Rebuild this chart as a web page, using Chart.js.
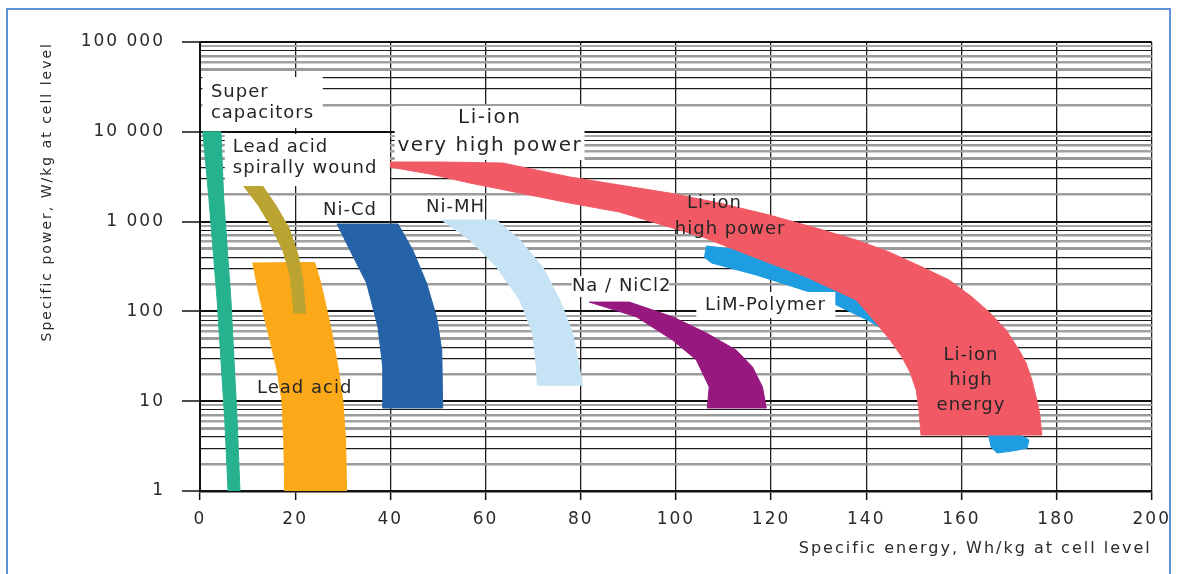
<!DOCTYPE html>
<html>
<head>
<meta charset="utf-8">
<title>Specific power vs specific energy of cell technologies</title>
<script src="https://cdn.jsdelivr.net/npm/chart.js@4.4.1/dist/chart.umd.min.js"></script>
<style>
  html, body { margin: 0; padding: 0; background: #ffffff; }
  canvas { display: block; }
</style>
</head>
<body>
<canvas id="ragone" width="1177" height="574"></canvas>
<script>
// Outlines of each technology region: [specific energy (Wh/kg), specific power (W/kg)] vertices
const superCapacitors = [[0.6,10000],[1.9,1740],[3.6,134],[5.2,6.2],[5.9,1],[8.4,1],[7.8,6.2],[6.5,134],[5.0,1740],[4.4,10000]];
const leadAcidSpiral  = [[9.0,2560],[12.2,1530],[15.1,850],[17.4,480],[18.9,254],[19.5,134],[19.7,96],[22.2,96],[21.6,224],[20.6,425],[18.7,850],[15.9,1530],[13.0,2560]];
const leadAcid        = [[11.1,346],[12.2,173],[13.4,91],[14.7,48],[16.2,22],[17.2,10.3],[17.6,3.7],[17.8,1],[30.8,1],[30.6,3.7],[30.0,10.3],[29.0,24],[27.7,57.5],[26.2,134],[25.2,224],[24.1,350]];
const niCd            = [[28.8,940],[41.6,940],[44.7,483],[47.6,207],[49.7,87],[50.8,37],[51.0,8.4],[38.4,8.4],[38.4,24],[37.4,67],[35.0,207],[31.5,483]];
const niMH            = [[50.8,1040],[62.3,1040],[67.2,624],[72.0,312],[75.6,134],[78.3,57.5],[79.7,24],[80.4,15.1],[70.9,15.1],[70.7,24],[69.9,57.5],[67.2,134],[62.3,312],[56.7,624]];
const naNiCl2         = [[81.8,127],[90.2,127],[99.3,87],[106.4,57.5],[112.7,37],[116.1,24],[118.2,14.4],[119.0,8.4],[106.6,8.4],[107.0,14.4],[104.3,28.8],[99.3,48],[91.7,87]];
const liIon           = [[38.4,4610],[50.4,4610],[63.6,4490],[77.7,3140],[88.1,2556],[98.6,2082],[109.1,1611],[119.6,1184],[130.1,828],[137.9,624],[144.8,459],[151.7,312],[157.4,224],[162.2,145],[165.8,98.5],[169.4,62],[172.1,37.2],[173.6,26.6],[174.8,17.2],[175.7,11.1],[176.5,7.0],[176.9,4.2],[151.5,4.2],[151.1,8.0],[150.5,13.3],[149.2,21.1],[147.5,31.1],[145.0,48],[142.1,74.3],[137.9,134],[127.4,242],[116.9,393],[105.6,674],[98.6,871],[88.1,1279],[77.7,1611],[67.2,2082],[56.7,2690],[48.3,3388],[39.9,4055]];
const limPolymer      = [[106.4,535],[116.9,459],[127.4,320],[137.9,197],[146.9,104],[155.3,42.3],[162.6,15.1],[167.9,6.2],[173.1,4.0],[174.2,3.7],[173.8,3.0],[171.0,2.8],[167.5,2.65],[166.2,3.1],[165.8,4.0],[162.6,8.0],[157.4,17.2],[151.1,37.2],[144.8,57.5],[140.6,78.2],[133.7,118],[127.4,169],[116.9,254],[107.5,346],[106.0,400]];

// Axis tick labels
const energyTicks = [0, 20, 40, 60, 80, 100, 120, 140, 160, 180, 200];
const powerTickLabels = ['1', '10', '100', '1 000', '10 000', '100 000'];

// Region captions (text and anchor in data units)
const captions = [
  { lines: ['Super', 'capacitors'], energy: 2.3, power: 27740, align: 'left' },
  { lines: ['Lead acid', 'spirally wound'], energy: 6.9, power: 6770, align: 'left' },
  { lines: ['Li-ion', 'very high power'], energy: 60.9, power: 14250, big: true },
  { lines: ['Ni-Cd'], energy: 31.5, power: 1346 },
  { lines: ['Ni-MH'], energy: 53.7, power: 1455 },
  { lines: ['Na / NiCl2'], energy: 88.6, power: 192 },
  { lines: ['LiM-Polymer'], energy: 118.8, power: 118 },
  { lines: ['Lead acid'], energy: 22.0, power: 14.0 },
  { lines: ['Li-ion'], energy: 108.1, power: 1611 },
  { lines: ['high power'], energy: 111.4, power: 828 },
  { lines: ['Li-ion', 'high', 'energy'], energy: 162.0, power: 32.7, gap: 25 }
];

// White panels behind some captions: [energy from, energy to], [power from, power to]
const captionPanels = [
  { energy: [0.5, 25.8],  power: [11020, 40740] },
  { energy: [5.2, 39.9],  power: [2490, 9452] },
  { energy: [40.9, 80.8], power: [4853, 19370] },
  { energy: [25.6, 37.8], power: [1069, 1832] },
  { energy: [47.8, 59.4], power: [1097, 1928] },
  { energy: [78.1, 98.6], power: [145, 248] },
  { energy: [104.3, 133.5], power: [84.5, 164.5] }
];

// Series, listed from front-most to back-most
const technologies = [
  { name: 'Lead acid spirally wound', outline: leadAcidSpiral, color: '#BBA331' },
  { name: 'Lead acid',                outline: leadAcid,       color: '#FBA819' },
  { name: 'Super capacitors',         outline: superCapacitors, color: '#27B28F' },
  { name: 'Ni-Cd',                    outline: niCd,           color: '#2562A7' },
  { name: 'Ni-MH',                    outline: niMH,           color: '#C5E3F5' },
  { name: 'Na / NiCl2',               outline: naNiCl2,        color: '#97197F' },
  { name: 'Li-ion',                   outline: liIon,          color: '#F15A64' },
  { name: 'LiM-Polymer',              outline: limPolymer,     color: '#1E9EE0' }
];

const FONT = '"DejaVu Sans", sans-serif';
const TEXT = '#262626';

const isDecade = v => Math.abs(Math.log10(v) - Math.round(Math.log10(v))) < 1e-9;

// Horizontal rules: every 1..9 x 10^k between 1 and 100 000
const powerGrid = [];
for (let k = 0; k < 5; k++) for (let m = 1; m <= 9; m++) powerGrid.push(m * Math.pow(10, k));
powerGrid.push(100000);

// Rule style by mantissa: mixed grey bands and thin black rules
const ruleStyle = { 2: ['#9c9c9c', 2.5], 3: ['#1c1c1c', 1.2], 4: ['#1c1c1c', 1.2], 5: ['#9a9a9a', 3], 6: ['#a2a2a2', 2.5], 7: ['#9a9a9a', 2.5], 8: ['#1c1c1c', 1], 9: ['#a4a4a4', 2] };
function powerRule(v) {
  if (isDecade(v)) return ['#111111', 2];
  const m = Math.round(v / Math.pow(10, Math.floor(Math.log10(v) + 1e-9)));
  return ruleStyle[m] || ['#1c1c1c', 1];
}

const pagePlugin = {
  id: 'page',
  beforeDraw(chart) {
    const { ctx, width, height } = chart;
    ctx.save();
    ctx.fillStyle = '#ffffff';
    ctx.fillRect(0, 0, width, height);
    ctx.strokeStyle = '#5F93D6';
    ctx.lineWidth = 2;
    ctx.strokeRect(7, 9, 1163, height + 20);
    ctx.restore();
    ctx.letterSpacing = '2px';
  },
  afterDraw(chart) {
    chart.ctx.letterSpacing = '0px';
  }
};

const captionPlugin = {
  id: 'captions',
  afterDatasetsDraw(chart) {
    const { ctx, scales: { x, y } } = chart;
    ctx.save();
    ctx.fillStyle = '#ffffff';
    for (const p of captionPanels) {
      const x0 = x.getPixelForValue(p.energy[0]);
      const x1 = x.getPixelForValue(p.energy[1]);
      const y0 = y.getPixelForValue(p.power[1]);
      const y1 = y.getPixelForValue(p.power[0]);
      ctx.fillRect(x0, y0, x1 - x0, y1 - y0);
    }
    ctx.fillStyle = TEXT;
    ctx.textBaseline = 'middle';
    for (const c of captions) {
      ctx.font = (c.big ? 20 : 18) + 'px ' + FONT;
      ctx.letterSpacing = (c.big ? 1.5 : 1) + 'px';
      ctx.textAlign = c.align || 'center';
      const px = x.getPixelForValue(c.energy);
      const py = y.getPixelForValue(c.power);
      const gap = c.gap || (c.big ? 28 : 21);
      c.lines.forEach((t, k) => ctx.fillText(t, px, py + k * gap));
    }
    ctx.restore();
  }
};

new Chart(document.getElementById('ragone'), {
  type: 'scatter',
  data: {
    datasets: technologies.map((t, i) => ({
      label: t.name,
      data: t.outline.concat([t.outline[0]]).map(([e, p]) => ({ x: e, y: p })),
      showLine: true,
      fill: 'shape',
      backgroundColor: t.color,
      borderColor: t.color,
      borderWidth: 1,
      pointRadius: 0,
      pointHoverRadius: 0,
      tension: 0,
      order: i
    }))
  },
  options: {
    responsive: false,
    animation: false,
    events: [],
    layout: { padding: { left: 0, top: 42, right: 24, bottom: 0 } },
    plugins: {
      legend: { display: false },
      tooltip: { enabled: false }
    },
    scales: {
      x: {
        type: 'linear',
        min: 0,
        max: 200,
        afterBuildTicks: s => { s.ticks = energyTicks.map(v => ({ value: v })); },
        afterFit: s => { s.height = 83; },
        grid: { color: '#1e1e1e', lineWidth: 1.3, tickLength: 9, tickColor: '#111', tickWidth: 1.5 },
        border: { display: true, color: '#111', width: 2.5 },
        ticks: { color: '#2a2a2a', font: { family: FONT, size: 17 }, padding: 9, maxRotation: 0, autoSkip: false },
        title: {
          display: true,
          text: 'Specific energy, Wh/kg at cell level',
          align: 'end',
          color: '#2a2a2a',
          font: { family: FONT, size: 16 },
          padding: { top: 0, bottom: 16 }
        }
      },
      y: {
        type: 'logarithmic',
        min: 1,
        max: 100000,
        afterBuildTicks: s => { s.ticks = powerGrid.map(v => ({ value: v, major: isDecade(v) })); },
        afterFit: s => { s.width = 200; },
        grid: {
          color: c => c.tick ? powerRule(c.tick.value)[0] : '#111',
          lineWidth: c => c.tick ? powerRule(c.tick.value)[1] : 1,
          tickLength: 18,
          tickColor: c => (c.tick && isDecade(c.tick.value)) ? '#111' : 'rgba(0,0,0,0)',
          tickWidth: 1.5
        },
        border: { display: true, color: '#111', width: 2 },
        ticks: {
          color: '#2a2a2a',
          font: { family: FONT, size: 17 },
          padding: 17,
          autoSkip: false,
          callback: v => isDecade(v) ? powerTickLabels[Math.round(Math.log10(v))] : ''
        },
        title: {
          display: true,
          text: 'Specific power, W/kg at cell level',
          align: 'end',
          color: '#2a2a2a',
          font: { family: FONT, size: 14 },
          padding: { top: 39, bottom: 0 }
        }
      }
    }
  },
  plugins: [pagePlugin, captionPlugin]
});
</script>
</body>
</html>
